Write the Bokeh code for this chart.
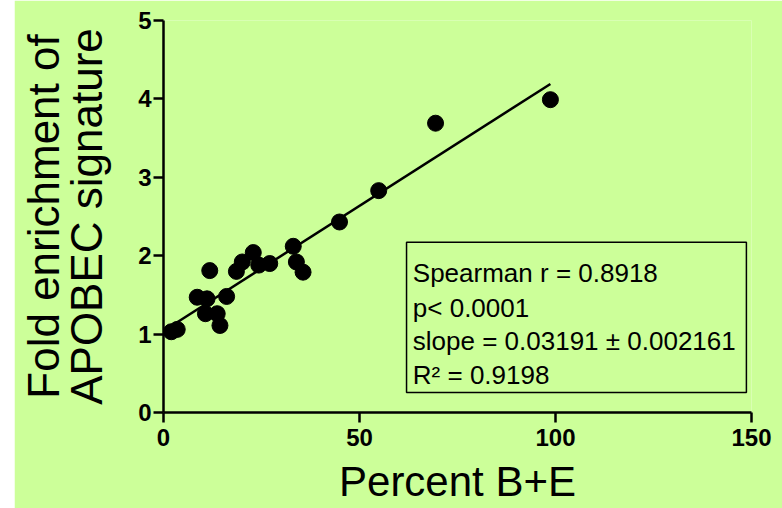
from bokeh.plotting import figure
from bokeh.models import Range1d, Label, BoxAnnotation, FixedTicker, Spacer
from bokeh.layouts import row
from bokeh.embed import file_html
from bokeh.resources import INLINE

# ---- data ----
percent_be = [2.0, 3.5, 8.6, 11.1, 10.7, 13.7, 14.4, 11.8, 16.1, 18.6, 20.1,
              22.9, 24.3, 27.1, 33.1, 33.9, 35.6, 44.9, 54.9, 69.4, 98.7]
fold_enrich = [1.03, 1.06, 1.47, 1.45, 1.26, 1.26, 1.11, 1.81, 1.48, 1.80, 1.92,
               2.04, 1.88, 1.90, 2.12, 1.92, 1.79, 2.43, 2.83, 3.69, 3.99]
slope = 0.03191
intercept = 1.04
fit_x = [min(percent_be), max(percent_be)]
fit_y = [intercept + slope * v for v in fit_x]
x_ticks = [0, 50, 100, 150]
y_ticks = [0, 1, 2, 3, 4, 5]
stats_lines = ["Spearman r = 0.8918", "p< 0.0001",
               "slope = 0.03191 \u00b1 0.002161", "R\u00b2 = 0.9198"]

BG = "#ccff99"
FONT = "Liberation Sans"

p = figure(width=768, height=508, output_backend="svg", toolbar_location=None,
           x_range=Range1d(0, 150), y_range=Range1d(0, 5),
           min_border_left=149, min_border_right=31, min_border_top=20,
           min_border_bottom=96)
p.background_fill_color = BG
p.border_fill_color = BG
p.outline_line_color = None
p.grid.visible = False

for ax, ticks in ((p.xaxis[0], x_ticks), (p.yaxis[0], y_ticks)):
    ax.ticker = FixedTicker(ticks=ticks)
    ax.minor_tick_line_color = None
    ax.major_tick_in = 0
    ax.major_tick_out = 10
    ax.axis_line_width = 2.5
    ax.major_tick_line_width = 2.5
    ax.axis_line_color = "black"
    ax.major_tick_line_color = "black"
    ax.major_label_text_font = FONT
    ax.major_label_text_font_style = "bold"
    ax.major_label_text_font_size = "24px"
    ax.major_label_text_color = "black"
    ax.axis_label_text_font = FONT
    ax.axis_label_text_font_style = "normal"
    ax.axis_label_text_color = "black"
p.xaxis.major_label_standoff = 6
p.yaxis.major_label_standoff = 2

p.xaxis.axis_label = "Percent B+E"
p.xaxis.axis_label_text_font_size = "42px"
p.xaxis.axis_label_standoff = 9
p.yaxis.axis_label = "Fold enrichment of\nAPOBEC signature"
p.yaxis.axis_label_text_font_size = "44px"
p.yaxis.axis_label_text_line_height = 0.88
p.yaxis.axis_label_standoff = 24

p.line(fit_x, fit_y, line_width=2.5, line_color="black")
p.scatter(percent_be, fold_enrich, size=16, fill_color="black", line_color="black")

# stats box
p.add_layout(BoxAnnotation(left=62, right=148.7, top=2.17, bottom=0.255,
                           fill_alpha=0, line_color="black", line_alpha=1,
                           line_width=1.5))
for txt, yy in zip(stats_lines, [1.773, 1.327, 0.918, 0.472]):
    p.add_layout(Label(x=63.6, y=yy, text=txt, text_align="left",
                       text_baseline="alphabetic", text_font=FONT,
                       text_font_size="26px", text_color="black"))

layout = row(Spacer(width=14, height=508), p)
open("out.html", "w").write(file_html(layout, INLINE))
